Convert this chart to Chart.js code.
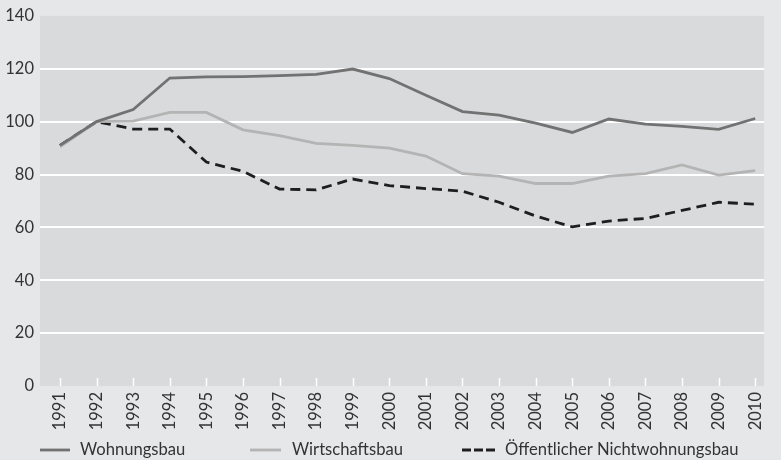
<!DOCTYPE html>
<html>
<head>
<meta charset="utf-8">
<script src="https://cdn.jsdelivr.net/npm/chart.js@4/dist/chart.umd.min.js"></script>
<style>
  html, body { margin: 0; padding: 0; background: #e6e7e8; }
  #wrap { width: 781px; height: 460px; }
</style>
</head>
<body>
<div id="wrap"><canvas id="c" width="781" height="460"></canvas></div>
<script>
// Baupreis-/Volumenindex, 1992 = 100
const years = [1991, 1992, 1993, 1994, 1995, 1996, 1997, 1998, 1999, 2000,
               2001, 2002, 2003, 2004, 2005, 2006, 2007, 2008, 2009, 2010];
const wohnungsbau = [91, 100, 104.6, 116.5, 116.9, 117, 117.4, 117.9, 119.9, 116.3,
                     110, 103.8, 102.5, 99.4, 95.9, 101, 99.1, 98.2, 97.1, 101.2];
const wirtschaftsbau = [90.5, 100, 100.2, 103.5, 103.5, 96.9, 94.7, 91.8, 91, 90,
                        87, 80.3, 79.4, 76.6, 76.6, 79.4, 80.3, 83.6, 79.8, 81.5];
const oeffentlich = [91, 100, 97.2, 97.2, 84.7, 81.2, 74.5, 74.2, 78.3, 75.8,
                     74.7, 73.7, 69.5, 64.3, 60.2, 62.4, 63.4, 66.4, 69.5, 68.8];
const yTicks = [0, 20, 40, 60, 80, 100, 120, 140];
const seriesNames = ['Wohnungsbau', 'Wirtschaftsbau', 'Öffentlicher Nichtwohnungsbau'];

const FONT = 'Lato, "Open Sans", sans-serif';
const TEXT = '#333333';

const toPoints = arr => arr.map((v, i) => ({ x: years[i], y: v }));

// Backgrounds: light page, slightly darker plot area
const backgroundPlugin = {
  id: 'bg',
  beforeDraw(chart) {
    const { ctx, chartArea: a } = chart;
    ctx.save();
    ctx.fillStyle = '#e6e7e8';
    ctx.fillRect(0, 0, chart.width, chart.height);
    ctx.fillStyle = '#d9dadb';
    ctx.fillRect(a.left, a.top, a.right - a.left, a.bottom - a.top);
    ctx.restore();
  }
};

// Short white tick marks standing inside the plot at each year
const innerTicksPlugin = {
  id: 'innerTicks',
  beforeDatasetsDraw(chart) {
    const { ctx, chartArea: a, scales } = chart;
    ctx.save();
    ctx.strokeStyle = '#ffffff';
    ctx.lineWidth = 1.5;
    years.forEach(y => {
      const px = Math.round(scales.x.getPixelForValue(y)) + 0.5;
      ctx.beginPath();
      ctx.moveTo(px, a.bottom);
      ctx.lineTo(px, a.bottom - 8);
      ctx.stroke();
    });
    ctx.restore();
  }
};

// Legend row below the year labels
const legendRowPlugin = {
  id: 'legendRow',
  afterDraw(chart) {
    const { ctx } = chart;
    const items = [
      { x: 40, len: 30, gap: 10, dash: [] },
      { x: 250, len: 31, gap: 11, dash: [] },
      { x: 462, len: 33, gap: 10, dash: [9, 3] }
    ];
    const yMid = 450;
    ctx.save();
    chart.data.datasets.forEach((ds, i) => {
      const it = items[i];
      ctx.strokeStyle = ds.borderColor;
      ctx.lineWidth = ds.borderWidth;
      ctx.setLineDash(it.dash);
      ctx.beginPath();
      ctx.moveTo(it.x, yMid);
      ctx.lineTo(it.x + it.len, yMid);
      ctx.stroke();
      ctx.setLineDash([]);
      ctx.fillStyle = TEXT;
      ctx.font = '16.6px ' + FONT;
      ctx.textBaseline = 'middle';
      ctx.textAlign = 'left';
      ctx.fillText(ds.label, it.x + it.len + it.gap, yMid);
    });
    ctx.restore();
  }
};

new Chart(document.getElementById('c'), {
  type: 'line',
  data: {
    datasets: [
      { label: seriesNames[0], data: toPoints(wohnungsbau), borderColor: '#727272', borderWidth: 2.8 },
      { label: seriesNames[1], data: toPoints(wirtschaftsbau), borderColor: '#b4b4b4', borderWidth: 2.8 },
      { label: seriesNames[2], data: toPoints(oeffentlich), borderColor: '#1e1e1e', borderWidth: 2.8, borderDash: [10, 6] }
    ]
  },
  options: {
    responsive: false,
    animation: false,
    devicePixelRatio: 1,
    elements: { point: { radius: 0 }, line: { tension: 0, borderCapStyle: 'butt', borderJoinStyle: 'miter' } },
    layout: { padding: { top: 13, right: 0, bottom: 0, left: 0 } },
    plugins: { legend: { display: false }, tooltip: { enabled: false } },
    scales: {
      x: {
        type: 'linear',
        min: 1990.453,
        max: 2010.24,
        afterBuildTicks(scale) { scale.ticks = years.map(v => ({ value: v })); },
        afterFit(scale) { scale.height = 74; },
        grid: { display: false, drawTicks: false },
        border: { display: false },
        ticks: {
          autoSkip: false,
          minRotation: 90,
          maxRotation: 90,
          padding: 6,
          color: TEXT,
          font: { family: FONT, size: 16.5 },
          callback: v => String(v)
        }
      },
      y: {
        min: 0,
        max: 140,
        afterBuildTicks(scale) { scale.ticks = yTicks.map(v => ({ value: v })); },
        afterFit(scale) { scale.width = 40; },
        grid: {
          color: ctx => (ctx.tick && (ctx.tick.value === 0 || ctx.tick.value === 140)) ? 'rgba(0,0,0,0)' : '#ffffff',
          lineWidth: 2,
          drawTicks: false
        },
        border: { display: false },
        ticks: {
          padding: 6,
          color: TEXT,
          font: { family: FONT, size: 16.5 },
          callback: v => String(v)
        }
      }
    }
  },
  plugins: [backgroundPlugin, innerTicksPlugin, legendRowPlugin]
});
</script>
</body>
</html>
